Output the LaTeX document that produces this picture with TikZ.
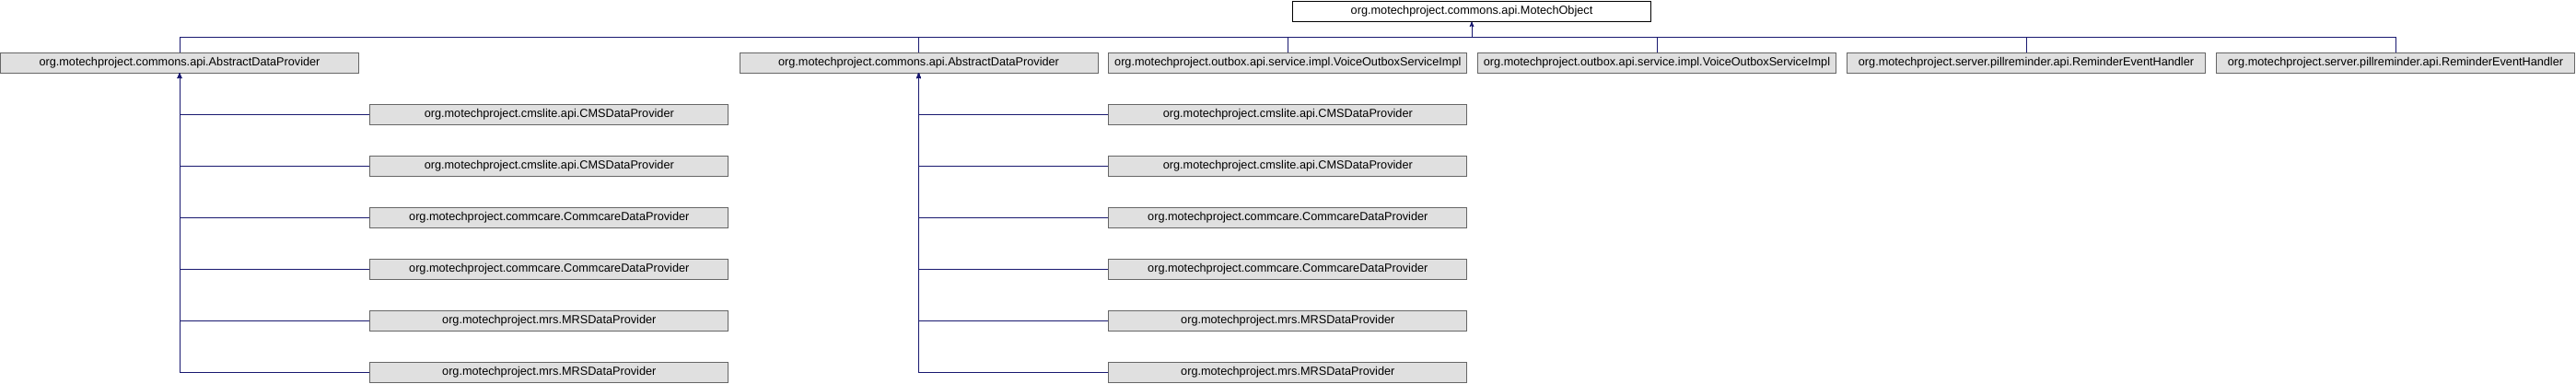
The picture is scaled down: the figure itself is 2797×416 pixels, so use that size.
\documentclass[tikz,border=0pt]{standalone}
\usepackage{fontspec}
\setmainfont{Liberation Sans}
\usetikzlibrary{arrows}
\definecolor{boxgray}{HTML}{E0E0E0}
\definecolor{boxline}{HTML}{666666}
\definecolor{linkblue}{HTML}{191970}
\tikzset{
  class node/.style={rectangle,draw=boxline,fill=boxgray,line width=1pt,
    minimum width=389pt,minimum height=22pt,inner sep=0pt,
    font=\fontsize{12.7}{14}\selectfont},
  base node/.style={class node,draw=black,fill=white},
  link/.style={draw=linkblue,line width=1pt,<-,>=stealth'},
  bus/.style={draw=linkblue,line width=1pt}
}

\begin{document}
\begin{tikzpicture}[x=1pt,y=-1pt]
  \useasboundingbox (0,0) rectangle (2797,416);
  % base class
  \node [base node] (1) at (1598,12) {org.motechproject.commons.api.MotechObject};
  % first level
  \node [class node] (2) at (195,68) {org.motechproject.commons.api.AbstractDataProvider};
  \node [class node] (3) at (997.5,68) {org.motechproject.commons.api.AbstractDataProvider};
  \node [class node] (4) at (1398.3,68) {org.motechproject.outbox.api.service.impl.VoiceOutboxServiceImpl};
  \node [class node] (5) at (1799,68) {org.motechproject.outbox.api.service.impl.VoiceOutboxServiceImpl};
  \node [class node] (6) at (2200,68) {org.motechproject.server.pillreminder.api.ReminderEventHandler};
  \node [class node] (7) at (2601,68) {org.motechproject.server.pillreminder.api.ReminderEventHandler};
  % below (2)
  \node [class node] (8) at (596.3,124) {org.motechproject.cmslite.api.CMSDataProvider};
  \node [class node] (9) at (596.3,180) {org.motechproject.cmslite.api.CMSDataProvider};
  \node [class node] (10) at (596.3,236) {org.motechproject.commcare.CommcareDataProvider};
  \node [class node] (11) at (596.3,292) {org.motechproject.commcare.CommcareDataProvider};
  \node [class node] (12) at (596.3,348) {org.motechproject.mrs.MRSDataProvider};
  \node [class node] (13) at (596.3,404) {org.motechproject.mrs.MRSDataProvider};
  % below (3)
  \node [class node] (14) at (1398.3,124) {org.motechproject.cmslite.api.CMSDataProvider};
  \node [class node] (15) at (1398.3,180) {org.motechproject.cmslite.api.CMSDataProvider};
  \node [class node] (16) at (1398.3,236) {org.motechproject.commcare.CommcareDataProvider};
  \node [class node] (17) at (1398.3,292) {org.motechproject.commcare.CommcareDataProvider};
  \node [class node] (18) at (1398.3,348) {org.motechproject.mrs.MRSDataProvider};
  \node [class node] (19) at (1398.3,404) {org.motechproject.mrs.MRSDataProvider};

  \coordinate (b) at (1598,40.3);
  \draw [link] (1) -- (b);
  \draw [bus] (b) -| (2);
  \draw [bus] (b) -| (3);
  \draw [bus] (b) -| (4);
  \draw [bus] (b) -| (5);
  \draw [bus] (b) -| (6);
  \draw [bus] (b) -| (7);

  \draw [link] (2) |- (8);
  \draw [link] (2) |- (9);
  \draw [link] (2) |- (10);
  \draw [link] (2) |- (11);
  \draw [link] (2) |- (12);
  \draw [link] (2) |- (13);
  \draw [link] (3) |- (14);
  \draw [link] (3) |- (15);
  \draw [link] (3) |- (16);
  \draw [link] (3) |- (17);
  \draw [link] (3) |- (18);
  \draw [link] (3) |- (19);
\end{tikzpicture}
\end{document}
